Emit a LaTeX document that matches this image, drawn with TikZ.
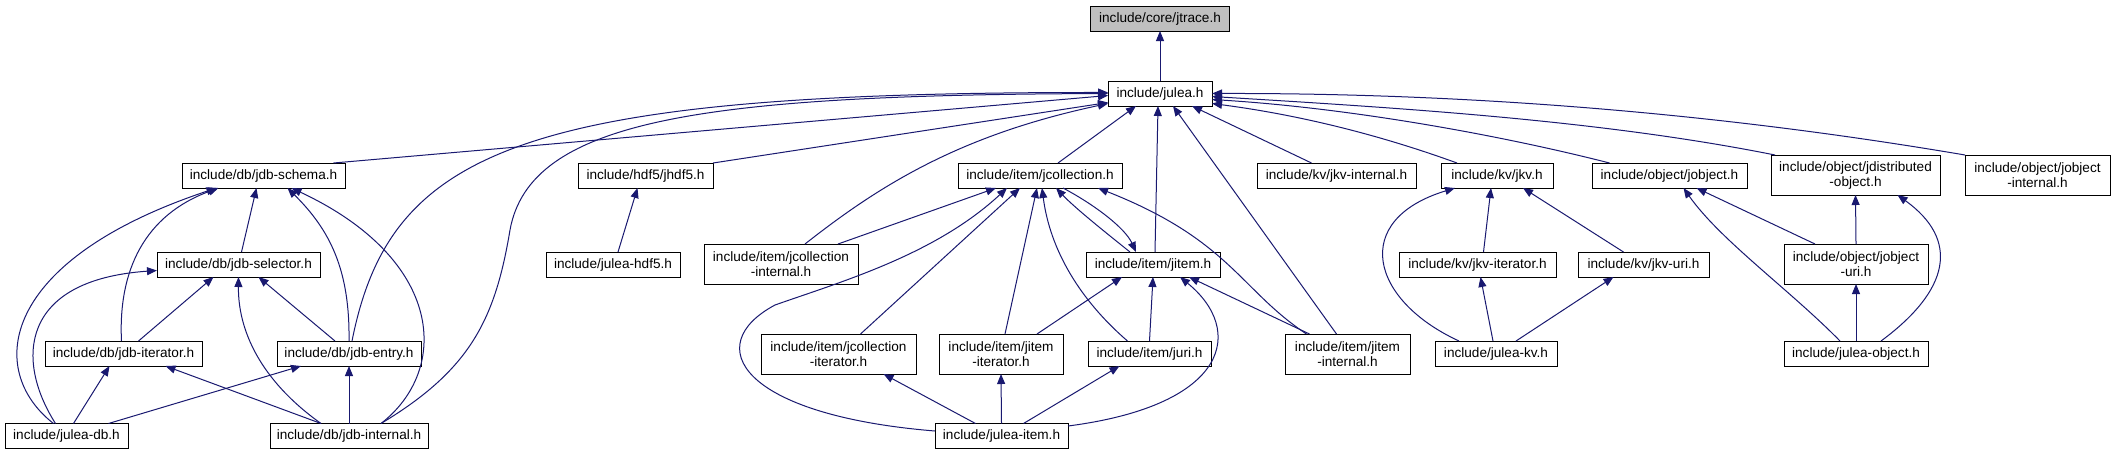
\documentclass[tikz,border=0pt]{standalone}
\usepackage{fontspec}
\setmainfont{Liberation Sans}
\usetikzlibrary{arrows.meta,calc}
\definecolor{edgeblue}{HTML}{191970}
\definecolor{rootgray}{HTML}{BFBFBF}
\begin{document}
\begin{tikzpicture}[x=0.75pt,y=-0.75pt,
  box/.style={draw=black, fill=white, line width=0.75pt, inner sep=0pt, outer sep=0pt, align=center, minimum height=18.75pt, font=\fontsize{10.2pt}{11.25pt}\selectfont},
  tall/.style={minimum height=30pt},
  bw/.style={minimum width=#1*0.75pt},
  edge/.style={draw=edgeblue, line width=0.75pt, -{Triangle[length=7.5pt,width=6pt]}}]
\fill[white] (0,0) rectangle (2115,455);
\useasboundingbox (0,0) rectangle (2115,455);

\node[box,bw=139,fill=rootgray] (jtrace) at (1160,18.5) {include/core/jtrace.h};
\node[box,bw=104] (julea) at (1160,93.5) {include/julea.h};
\node[box,bw=163] (schema) at (263.5,175.5) {include/db/jdb-schema.h};
\node[box,bw=135] (jhdf5) at (645.5,175.5) {include/hdf5/jhdf5.h};
\node[box,bw=164] (jcoll) at (1040,175.5) {include/item/jcollection.h};
\node[box,bw=159] (jkvint) at (1336.5,175.5) {include/kv/jkv-internal.h};
\node[box,bw=112] (jkv) at (1497,175.5) {include/kv/jkv.h};
\node[box,bw=155] (jobject) at (1669.5,175.5) {include/object/jobject.h};
\node[box,tall,bw=169] (jdist) at (1855.5,175) {include/object/jdistributed\\-object.h};
\node[box,tall,bw=145] (jobjint) at (2037.5,175) {include/object/jobject\\-internal.h};
\node[box,bw=163] (selector) at (238.5,264.5) {include/db/jdb-selector.h};
\node[box,bw=134] (juleahdf) at (613,264.5) {include/julea-hdf5.h};
\node[box,tall,bw=154] (jcint) at (781,264) {include/item/jcollection\\-internal.h};
\node[box,bw=134] (jitem) at (1153,264.5) {include/item/jitem.h};
\node[box,bw=157] (jkvit) at (1477.5,264.5) {include/kv/jkv-iterator.h};
\node[box,bw=131] (jkvuri) at (1643.5,264.5) {include/kv/jkv-uri.h};
\node[box,tall,bw=144] (jobjuri) at (1856,264) {include/object/jobject\\-uri.h};
\node[box,bw=157] (jdbiter) at (123.5,353.5) {include/db/jdb-iterator.h};
\node[box,bw=144] (jdbentry) at (349,353.5) {include/db/jdb-entry.h};
\node[box,tall,bw=155] (jcit) at (838.5,354) {include/item/jcollection\\-iterator.h};
\node[box,tall,bw=124] (jiit) at (1001,354) {include/item/jitem\\-iterator.h};
\node[box,bw=123] (juri) at (1149.5,353.5) {include/item/juri.h};
\node[box,tall,bw=125] (jitint) at (1347.5,354) {include/item/jitem\\-internal.h};
\node[box,bw=122] (juleakv) at (1496,353.5) {include/julea-kv.h};
\node[box,bw=144] (juleaobj) at (1856,353.5) {include/julea-object.h};
\node[box,bw=123] (juleadb) at (66.5,436) {include/julea-db.h};
\node[box,bw=158] (jdbint) at (349,436) {include/db/jdb-internal.h};
\node[box,bw=133] (juleaitem) at (1001.5,436) {include/julea-item.h};

% julea.h
\draw[edge] (julea.north) -- (jtrace.south);
\draw[edge] ($(schema.north)+(70,0)$) -- ($(julea.west)+(0,2)$);
\draw[edge] (jhdf5.north east) -- ($(julea.west)+(0,9)$);
\draw[edge] ($(jdbentry.north)+(3,0)$) .. controls (390,150) and (520,92) .. ($(julea.west)+(0,-1)$);
\draw[edge] ($(jdbint.north)+(32,0)$) .. controls (470,370) and (495,320) .. (510,230) .. controls (530,120) and (700,95) .. (julea.west);
\draw[edge] ($(jcint.north)+(24,0)$) .. controls (880,185) and (960,135) .. ($(julea.west)+(0,10)$);
\draw[edge] ($(jcoll.north)+(18,0)$) -- ($(julea.south)+(-24,0)$);
\draw[edge] ($(jitem.north)+(2,0)$) -- ($(julea.south)+(-2,0)$);
\draw[edge] ($(jitint.north)+(-11,0)$) -- ($(julea.south)+(13,0)$);
\draw[edge] ($(jkvint.north)+(-25,0)$) -- ($(julea.south)+(32,0)$);
\draw[edge] ($(jkv.north)+(-40,0)$) .. controls (1380,135) and (1300,115) .. ($(julea.east)+(0,10)$);
\draw[edge] ($(jobject.north)+(-60,0)$) .. controls (1500,135) and (1350,108) .. ($(julea.east)+(0,6)$);
\draw[edge] ($(jdist.north west)+(4,0)$) .. controls (1600,120) and (1400,108) .. ($(julea.east)+(0,3)$);
\draw[edge] (jobjint.north west) .. controls (1700,110) and (1450,93) .. (julea.east);

% db
\draw[edge] ($(juleadb.north)+(-13,0)$) .. controls (-15,370) and (0,260) .. ($(schema.south)+(-47,0)$);
\draw[edge] ($(jdbiter.north)+(-2,0)$) .. controls (118,270) and (145,215) .. ($(schema.south)+(-45,0)$);
\draw[edge] ($(selector.north)+(3,0)$) -- ($(schema.south)+(-7,0)$);
\draw[edge] (jdbentry.north) .. controls (350,270) and (330,230) .. ($(schema.south)+(24,0)$);
\draw[edge] ($(jdbint.north)+(32,0)$) .. controls (450,370) and (445,260) .. ($(schema.south)+(28,0)$);
\draw[edge] ($(juleadb.north)+(-11,0)$) .. controls (15,360) and (20,280) .. ($(selector.west)+(0,6)$);
\draw[edge] ($(jdbiter.north)+(15,0)$) -- ($(selector.south)+(-25,0)$);
\draw[edge] ($(jdbentry.north)+(-14,0)$) -- ($(selector.south)+(20,0)$);
\draw[edge] ($(jdbint.north)+(-28,0)$) .. controls (260,380) and (238,330) .. (selector.south);
\draw[edge] ($(juleadb.north)+(7,0)$) -- ($(jdbiter.south)+(-14,0)$);
\draw[edge] ($(jdbint.north)+(-28,0)$) -- ($(jdbiter.south)+(42,0)$);
\draw[edge] ($(juleadb.north)+(42,0)$) -- ($(jdbentry.south)+(-48,0)$);
\draw[edge] (jdbint.north) -- (jdbentry.south);
% hdf5
\draw[edge] ($(juleahdf.north)+(5,0)$) -- ($(jhdf5.south)+(-8,0)$);

% item
\draw[edge] ($(jcint.north)+(57,0)$) -- ($(jcoll.south)+(-44,0)$);
\draw[edge] ($(juleaitem.west)+(0,-5)$) .. controls (740,415) and (700,345) .. (775,305) .. controls (840,282) and (935,255) .. ($(jcoll.south)+(-33,0)$);
\draw[edge] ($(jcit.north)+(22,0)$) -- ($(jcoll.south)+(-20,0)$);
\draw[edge] ($(jiit.north)+(4,0)$) -- ($(jcoll.south)+(-3,0)$);
\draw[edge] ($(juri.north)+(-22,0)$) .. controls (1080,300) and (1050,250) .. ($(jcoll.south)+(2,0)$);
\draw[edge] ($(jitem.north)+(-23,0)$) .. controls (1105,232) and (1075,208) .. ($(jcoll.south)+(16,0)$);
\draw[edge] ($(jcoll.south)+(23,0)$) .. controls (1095,205) and (1125,228) .. ($(jitem.north)+(-17,0)$);
\draw[edge] ($(jitint.north)+(-41,0)$) .. controls (1240,290) and (1230,240) .. ($(jcoll.south)+(58,0)$);
\draw[edge] ($(jiit.north)+(36,0)$) -- ($(jitem.south)+(-31,0)$);
\draw[edge] (juri.north) -- (jitem.south);
\draw[edge] ($(juleaitem.east)+(0,-10)$) .. controls (1230,405) and (1245,330) .. ($(jitem.south)+(27,0)$);
\draw[edge] ($(jitint.north)+(-38,0)$) -- ($(jitem.south)+(36,0)$);
\draw[edge] ($(juleaitem.north)+(-26,0)$) -- ($(jcit.south)+(45,0)$);
\draw[edge] (juleaitem.north) -- (jiit.south);
\draw[edge] ($(juleaitem.north)+(22,0)$) -- ($(juri.south)+(-30,0)$);

% kv
\draw[edge] ($(juleakv.north)+(-37,0)$) .. controls (1370,300) and (1350,220) .. ($(jkv.south)+(-42,0)$);
\draw[edge] ($(jkvit.north)+(6,0)$) -- ($(jkv.south)+(-6,0)$);
\draw[edge] ($(jkvuri.north)+(-20,0)$) -- ($(jkv.south)+(26,0)$);
\draw[edge] ($(juleakv.north)+(-3,0)$) -- ($(jkvit.south)+(3,0)$);
\draw[edge] ($(juleakv.north)+(20,0)$) -- ($(jkvuri.south)+(-30,0)$);

% object
\draw[edge] ($(juleaobj.north)+(-16,0)$) .. controls (1790,290) and (1720,240) .. ($(jobject.south)+(14,0)$);
\draw[edge] ($(jobjuri.north)+(-41,0)$) -- ($(jobject.south)+(27,0)$);
\draw[edge] (jobjuri.north) -- (jdist.south);
\draw[edge] ($(juleaobj.north)+(25,0)$) .. controls (1950,290) and (1960,240) .. ($(jdist.south)+(42,0)$);
\draw[edge] (juleaobj.north) -- (jobjuri.south);
\end{tikzpicture}
\end{document}
